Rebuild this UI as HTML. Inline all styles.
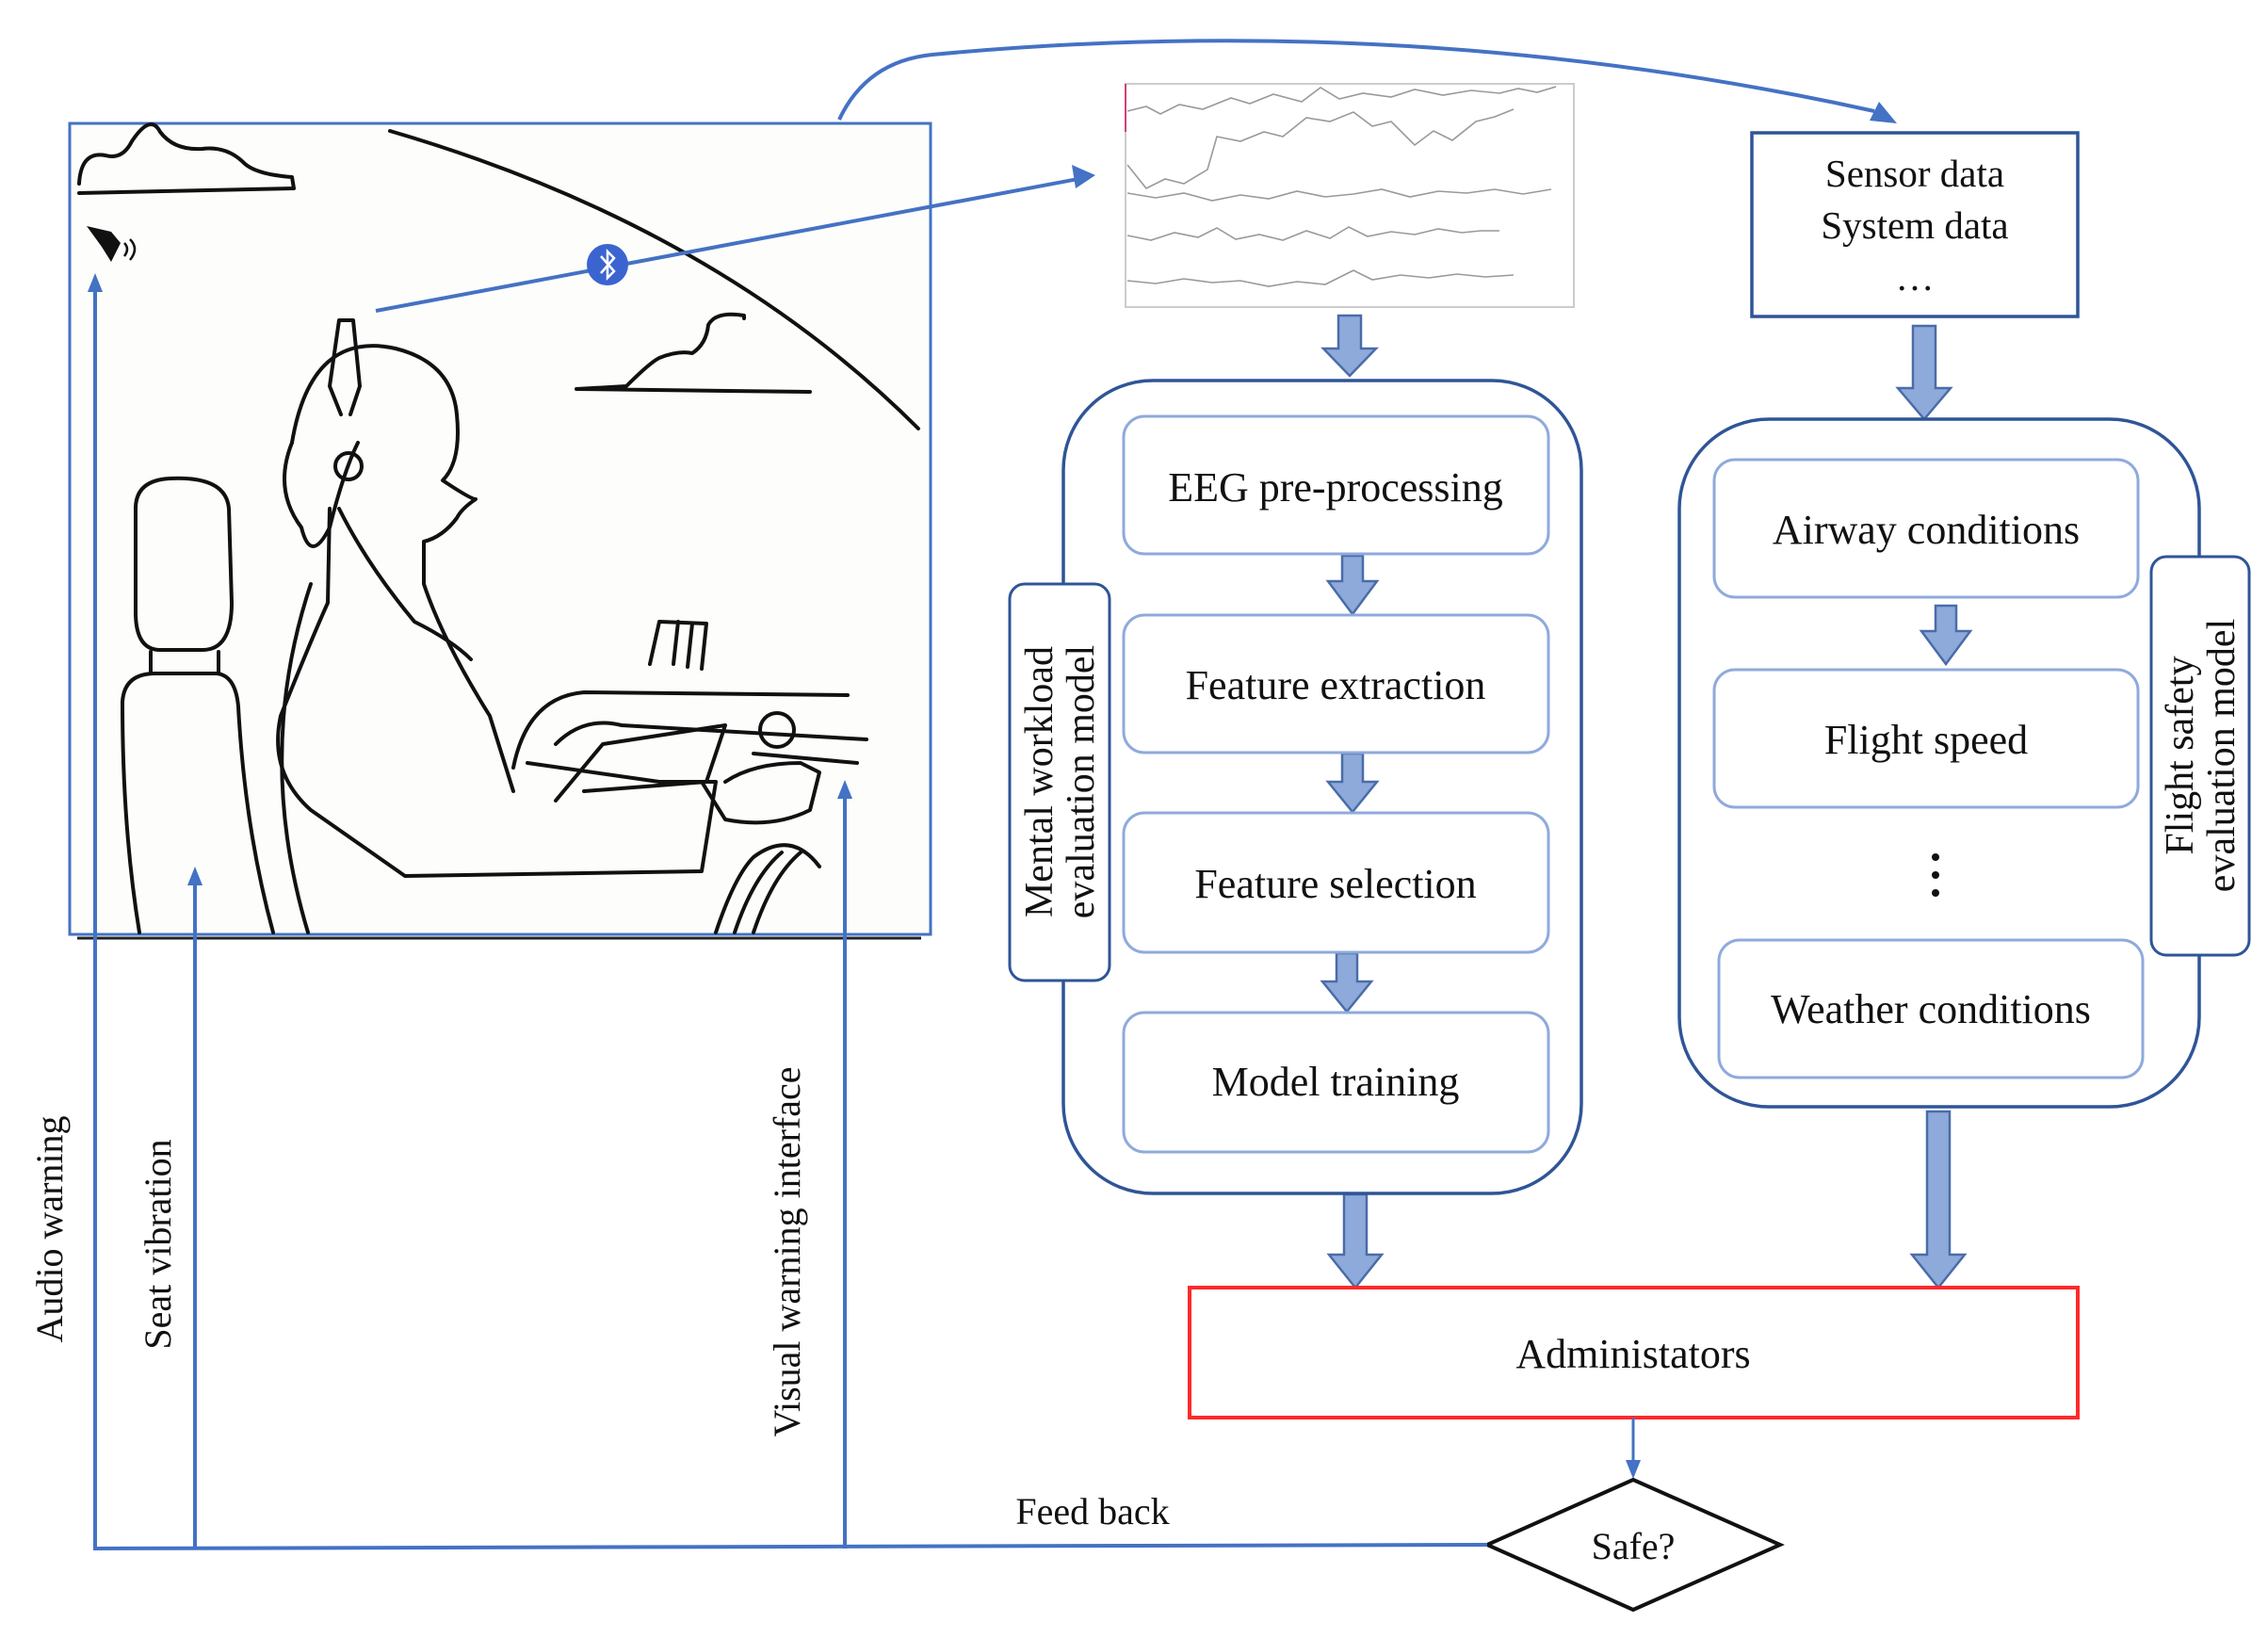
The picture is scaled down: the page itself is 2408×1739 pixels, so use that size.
<!DOCTYPE html>
<html><head><meta charset="utf-8"><style>
html,body{margin:0;padding:0;background:#fff}
svg{display:block}
text{font-family:"Liberation Serif",serif;fill:#111}
</style></head><body>
<svg width="2408" height="1739" viewBox="0 0 2408 1739" xmlns="http://www.w3.org/2000/svg">
<!-- illustration frame -->
<rect x="74" y="131" width="914" height="861" fill="#fdfdfc" stroke="#4472c4" stroke-width="3"/>
<line x1="82" y1="996" x2="978" y2="996" stroke="#222" stroke-width="3"/>
<g fill="none" stroke="#111" stroke-width="4" stroke-linecap="round" stroke-linejoin="round">
<path d="M414 139 Q760 240 975 455"/>
<path d="M84 195 Q86 160 112 165 Q130 170 140 150 Q160 120 170 140 Q185 160 215 158 Q240 155 258 172 Q270 185 310 188 L312 200 L84 205"/>
<path d="M612 413 L665 410 Q690 385 700 380 Q720 372 735 375 Q750 365 752 345 Q760 330 790 335 L790 338 M612 413 L860 416"/>
<path d="M144 540 Q144 510 180 508 Q240 505 243 540 L246 640 Q246 690 215 690 L170 690 Q144 690 144 650 Z"/>
<path d="M160 692 L160 715 M232 692 L232 715"/>
<path d="M148 990 Q130 880 130 745 Q132 715 165 715 L230 715 Q250 717 253 750 Q260 880 290 990"/>
<path d="M327 990 Q270 800 330 620"/>
<path d="M310 470 Q330 350 420 370 Q480 385 485 440 Q490 490 470 510 Q500 530 505 530 Q490 540 485 550 Q470 570 450 575 L450 620 Q470 680 520 760 L545 840"/>
<path d="M360 540 Q390 600 440 660 Q480 680 500 700"/>
<path d="M310 470 Q290 520 320 560 Q330 600 350 560 Q365 500 380 470"/>
<path d="M350 540 L348 640 Q330 680 298 760 Q285 820 330 860 L430 930 L745 925 L760 830 L700 830 L560 810"/>
<path d="M745 830 L770 870 Q820 880 860 860 L870 820 L850 810 Q800 810 770 830"/>
<path d="M545 815 Q560 740 620 735 L900 738 M590 790 Q620 760 660 770 L920 785 M800 800 L910 810"/>
<path d="M690 705 L700 660 L750 662 L745 710 M720 660 L715 705 M735 662 L730 708"/>
<path d="M590 850 L640 790 L770 770 L750 830 L620 840"/>
<circle cx="825" cy="775" r="18"/>
<path d="M760 990 Q780 930 800 910 Q840 880 870 920 M780 990 Q800 930 830 905 M800 990 Q820 930 850 905"/>
<path d="M362 440 L350 410 L360 340 L375 340 L382 410 L372 440"/>
<circle cx="370" cy="495" r="14"/>
</g>
<path d="M92 240 L118 246 L128 258 L118 278 L108 262 Z" fill="#111"/>
<path d="M132 258 q6 6 0 14 M138 254 q10 10 0 22" stroke="#111" stroke-width="2.5" fill="none"/>
<!-- bluetooth link -->
<line x1="399" y1="330" x2="1150" y2="189" stroke="#4472c4" stroke-width="4"/>
<polygon points="1163,186 1138,175 1142,200" fill="#4472c4"/>
<circle cx="645" cy="281" r="22" fill="#3c64d0"/>
<path d="M638 272 L652 288 L645 295 L645 267 L652 274 L638 290" stroke="#fff" stroke-width="2.5" fill="none"/>
<!-- top curve -->
<path d="M891 127 Q920 65 990 58 Q1500 10 1990 118" fill="none" stroke="#4472c4" stroke-width="4"/>
<polygon points="2014,131 1985,128 1995,108" fill="#4472c4"/>
<!-- EEG plot -->
<rect x="1195" y="89" width="476" height="237" fill="#fff" stroke="#ccc" stroke-width="2"/>
<line x1="1195" y1="89" x2="1195" y2="140" stroke="#d0407a" stroke-width="2"/>
<g fill="none" stroke="#999" stroke-width="1.6">
<path d="M1197 118 l20 -5 l15 8 l20 -10 l25 5 l30 -12 l20 6 l25 -10 l30 8 l20 -15 l20 12 l25 -6 l30 4 l25 -8 l30 6 l30 -5 l30 3 l20 -5 l20 4 l20 -6"/>
<path d="M1197 175 l20 25 l20 -10 l20 5 l25 -15 l10 -35 l25 5 l25 -10 l20 5 l25 -20 l25 4 l25 -10 l20 15 l20 -5 l25 25 l20 -15 l20 10 l25 -20 l20 -5 l20 -8"/>
<path d="M1197 205 l30 5 l30 -5 l30 8 l30 -6 l30 4 l30 -8 l30 6 l30 -3 l30 -5 l30 8 l30 -6 l30 2 l30 -4 l30 5 l30 -5"/>
<path d="M1197 250 l25 5 l25 -8 l25 5 l20 -10 l20 12 l25 -5 l25 6 l25 -10 l25 8 l20 -12 l20 10 l25 -5 l25 3 l25 -6 l25 4 l20 -2 l20 0"/>
<path d="M1197 298 l30 3 l30 -5 l30 4 l30 -2 l30 6 l30 -5 l30 3 l30 -15 l20 10 l30 -5 l30 3 l30 -4 l30 3 l30 -2"/>
</g>
<g fill="#8eaadb" stroke="#4a6ca8" stroke-width="2.5">
<polygon points="1421,335 1445,335 1445,370 1461,370 1433,399 1405,370 1421,370"/>
<polygon points="2031,346 2055,346 2055,412 2071,412 2043,445 2015,412 2031,412"/>
<polygon points="1425,590 1447,590 1447,617 1462,617 1436,652 1410,617 1425,617"/>
<polygon points="1425,800 1447,800 1447,830 1462,830 1436,862 1410,830 1425,830"/>
<polygon points="1419,1012 1441,1012 1441,1042 1456,1042 1430,1074 1404,1042 1419,1042"/>
<polygon points="2055,643 2077,643 2077,670 2092,670 2066,705 2040,670 2055,670"/>
<polygon points="1427,1268 1451,1268 1451,1332 1467,1332 1439,1367 1411,1332 1427,1332"/>
<polygon points="2046,1180 2070,1180 2070,1332 2086,1332 2058,1367 2030,1332 2046,1332"/>
</g>
<rect x="1860" y="141" width="346" height="195" fill="#fff" stroke="#2f5597" stroke-width="3.5"/>
<text x="2033" y="198" font-size="41" text-anchor="middle">Sensor data</text>
<text x="2033" y="253" font-size="41" text-anchor="middle">System data</text>
<text x="2033" y="308" font-size="41" text-anchor="middle">…</text>
<rect x="1129" y="404" width="550" height="863" rx="95" fill="none" stroke="#2f5597" stroke-width="3.5"/>
<g fill="#fff" stroke="#8faadc" stroke-width="3">
<rect x="1193" y="442" width="451" height="146" rx="22"/>
<rect x="1193" y="653" width="451" height="146" rx="22"/>
<rect x="1193" y="863" width="451" height="148" rx="22"/>
<rect x="1193" y="1075" width="451" height="148" rx="22"/>
</g>
<g font-size="44" text-anchor="middle">
<text x="1418" y="532">EEG pre-processing</text>
<text x="1418" y="742">Feature extraction</text>
<text x="1418" y="953">Feature selection</text>
<text x="1418" y="1163">Model training</text>
</g>
<rect x="1072" y="620" width="106" height="421" rx="16" fill="#fff" stroke="#2f5597" stroke-width="3"/>
<g transform="translate(1125,830) rotate(-90)" font-size="42" text-anchor="middle">
<text x="0" y="-8">Mental workload</text>
<text x="0" y="36">evaluation model</text>
</g>
<rect x="1783" y="445" width="552" height="730" rx="95" fill="none" stroke="#2f5597" stroke-width="3.5"/>
<g fill="#fff" stroke="#8faadc" stroke-width="3">
<rect x="1820" y="488" width="450" height="146" rx="22"/>
<rect x="1820" y="711" width="450" height="146" rx="22"/>
<rect x="1825" y="998" width="450" height="146" rx="22"/>
</g>
<g font-size="44" text-anchor="middle">
<text x="2045" y="577">Airway conditions</text>
<text x="2045" y="800">Flight speed</text>
<text x="2050" y="1086">Weather conditions</text>
</g>
<g fill="#111"><circle cx="2055" cy="910" r="4"/><circle cx="2055" cy="929" r="4"/><circle cx="2055" cy="948" r="4"/></g>
<rect x="2284" y="591" width="104" height="423" rx="16" fill="#fff" stroke="#2f5597" stroke-width="3"/>
<g transform="translate(2336,802) rotate(-90)" font-size="42" text-anchor="middle">
<text x="0" y="-8">Flight safety</text>
<text x="0" y="36">evaluation model</text>
</g>
<rect x="1263" y="1367" width="943" height="138" fill="#fff" stroke="#ff2a2a" stroke-width="4"/>
<text x="1734" y="1452" font-size="44" text-anchor="middle">Administators</text>
<line x1="1734" y1="1505" x2="1734" y2="1555" stroke="#4472c4" stroke-width="3"/>
<polygon points="1726,1550 1742,1550 1734,1570" fill="#4472c4"/>
<polygon points="1734,1571 1890,1640 1734,1709 1579,1640" fill="#fff" stroke="#111" stroke-width="4"/>
<text x="1734" y="1655" font-size="40" text-anchor="middle">Safe?</text>
<g stroke="#4472c4" stroke-width="4" fill="none">
<path d="M1579 1640 L101 1644 L101 300"/>
<path d="M207 1644 L207 930"/>
<path d="M897 1644 L897 838"/>
</g>
<g fill="#4472c4">
<polygon points="101,290 93,310 109,310"/>
<polygon points="207,920 199,940 215,940"/>
<polygon points="897,828 889,848 905,848"/>
</g>
<text x="1160" y="1618" font-size="40" text-anchor="middle">Feed back</text>
<g font-size="40" text-anchor="middle">
<text transform="translate(66,1305) rotate(-90)">Audio warning</text>
<text transform="translate(181,1321) rotate(-90)">Seat vibration</text>
<text transform="translate(849,1329) rotate(-90)">Visual warning interface</text>
</g>
</svg>
</body></html>
